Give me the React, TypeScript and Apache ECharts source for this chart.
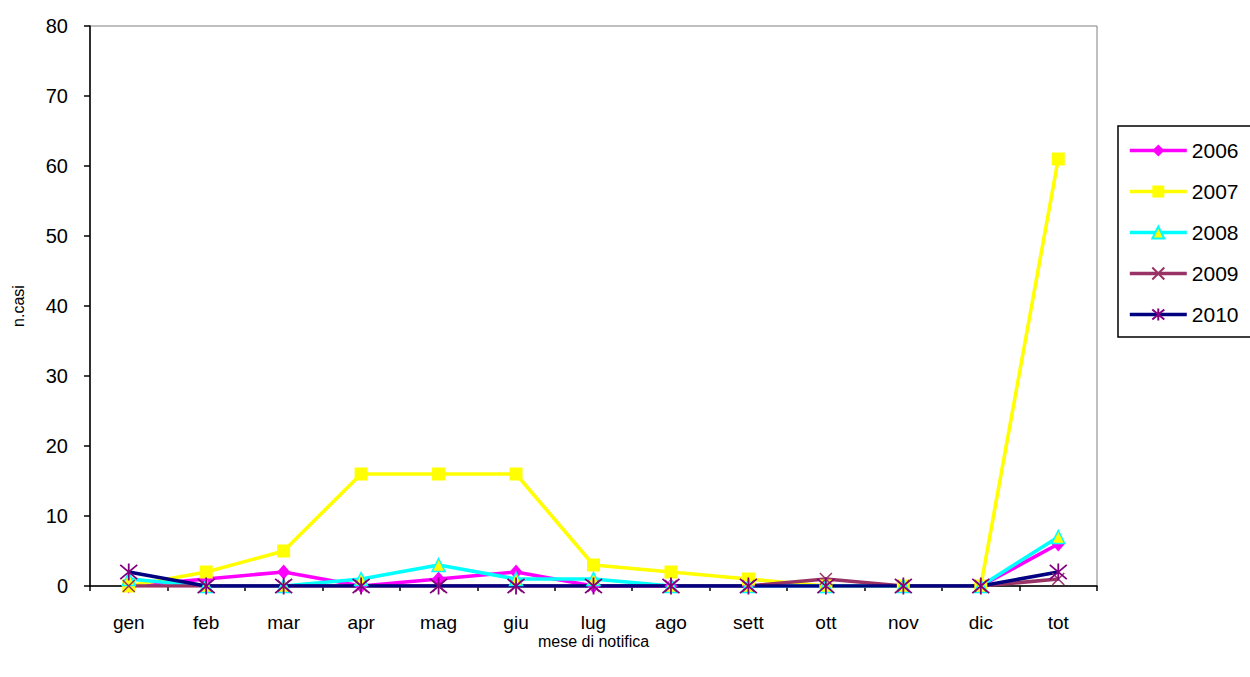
import React, { useEffect, useRef } from "react";
import * as echarts from "echarts";

const categories = ["gen", "feb", "mar", "apr", "mag", "giu", "lug", "ago", "sett", "ott", "nov", "dic", "tot"];
const s2006 = [0, 1, 2, 0, 1, 2, 0, 0, 0, 0, 0, 0, 6];
const s2007 = [0, 2, 5, 16, 16, 16, 3, 2, 1, 0, 0, 0, 61];
const s2008 = [1, 0, 0, 1, 3, 1, 1, 0, 0, 0, 0, 0, 7];
const s2009 = [0, 0, 0, 0, 0, 0, 0, 0, 0, 1, 0, 0, 1];
const s2010 = [2, 0, 0, 0, 0, 0, 0, 0, 0, 0, 0, 0, 2];
const yTicks = { min: 0, max: 80, interval: 10 };

const FONT = "'Liberation Sans', Arial, sans-serif";

export default function App() {
  const ref = useRef<HTMLDivElement>(null);
  useEffect(() => {
    if (!ref.current) return;
    const chart = echarts.init(ref.current, null, { renderer: "svg" });
    const xPath = "path://M0,0L10,10M10,0L0,10";
    const starPath = "path://M0,0L10,10M10,0L0,10M5,-1L5,11";
    const LW = 3.6;
    chart.setOption({
      animation: false,
      backgroundColor: "#ffffff",
      textStyle: { fontFamily: FONT, color: "#000" },
      grid: {
        left: 90,
        top: 26,
        right: 153,
        bottom: 91,
        show: true,
        borderColor: "#808080",
        borderWidth: 1,
        backgroundColor: "transparent",
      },
      legend: {
        orient: "vertical",
        left: 1118,
        top: 126,
        padding: [14, 30, 12, 10],
        itemGap: 20,
        itemWidth: 57,
        itemHeight: 15,
        borderColor: "#000",
        borderWidth: 1.5,
        lineStyle: { width: LW },
        textStyle: { fontFamily: FONT, fontSize: 21, color: "#000" },
        data: ["2006", "2007", "2008", "2009", "2010"],
      },
      xAxis: {
        type: "category",
        data: categories,
        boundaryGap: true,
        name: "mese di notifica",
        nameLocation: "middle",
        nameGap: 47,
        nameMoveOverlap: false,
        nameTextStyle: { fontFamily: FONT, fontSize: 16, color: "#000" },
        axisLine: { lineStyle: { color: "#000", width: 1.5 } },
        axisTick: { show: true, length: 5, lineStyle: { color: "#000", width: 1.5 } },
        axisLabel: { fontFamily: FONT, fontSize: 19, color: "#000", margin: 27 },
        splitLine: { show: false },
      },
      yAxis: {
        type: "value",
        min: yTicks.min,
        max: yTicks.max,
        interval: yTicks.interval,
        name: "n.casi",
        nameLocation: "middle",
        nameRotate: 90,
        nameGap: 64,
        nameTextStyle: { fontFamily: FONT, fontSize: 16, color: "#000" },
        axisLine: { show: true, lineStyle: { color: "#000", width: 1.5 } },
        axisTick: { show: true, length: 6, lineStyle: { color: "#000", width: 1.5 } },
        axisLabel: { fontFamily: FONT, fontSize: 20, color: "#000", margin: 22 },
        splitLine: { show: false },
      },
      series: [
        {
          name: "2006",
          type: "line",
          data: s2006,
          symbol: "diamond",
          symbolSize: [13, 15],
          lineStyle: { color: "#FF00FF", width: LW },
          itemStyle: { color: "#FF00FF" },
        },
        {
          name: "2007",
          type: "line",
          data: s2007,
          symbol: "rect",
          symbolSize: 13,
          lineStyle: { color: "#FFFF00", width: LW },
          itemStyle: { color: "#FFFF00" },
        },
        {
          name: "2008",
          type: "line",
          data: s2008,
          symbol: "triangle",
          symbolSize: 13,
          lineStyle: { color: "#00FFFF", width: LW },
          itemStyle: { color: "#FFFF00", borderColor: "#00FFFF", borderWidth: 1.5 },
        },
        {
          name: "2009",
          type: "line",
          data: s2009,
          symbol: xPath,
          symbolSize: 12,
          lineStyle: { color: "#993366", width: LW },
          itemStyle: { color: "transparent", borderColor: "#993366", borderWidth: 1.5 },
        },
        {
          name: "2010",
          type: "line",
          data: s2010,
          symbol: starPath,
          symbolSize: 17,
          lineStyle: { color: "#000080", width: LW },
          itemStyle: { color: "transparent", borderColor: "#800080", borderWidth: 1.8 },
        },
      ],
    });
    return () => chart.dispose();
  }, []);
  return (
    <div
      ref={ref}
      style={{ position: "fixed", left: 0, top: 0, width: 1250, height: 677 }}
    />
  );
}
